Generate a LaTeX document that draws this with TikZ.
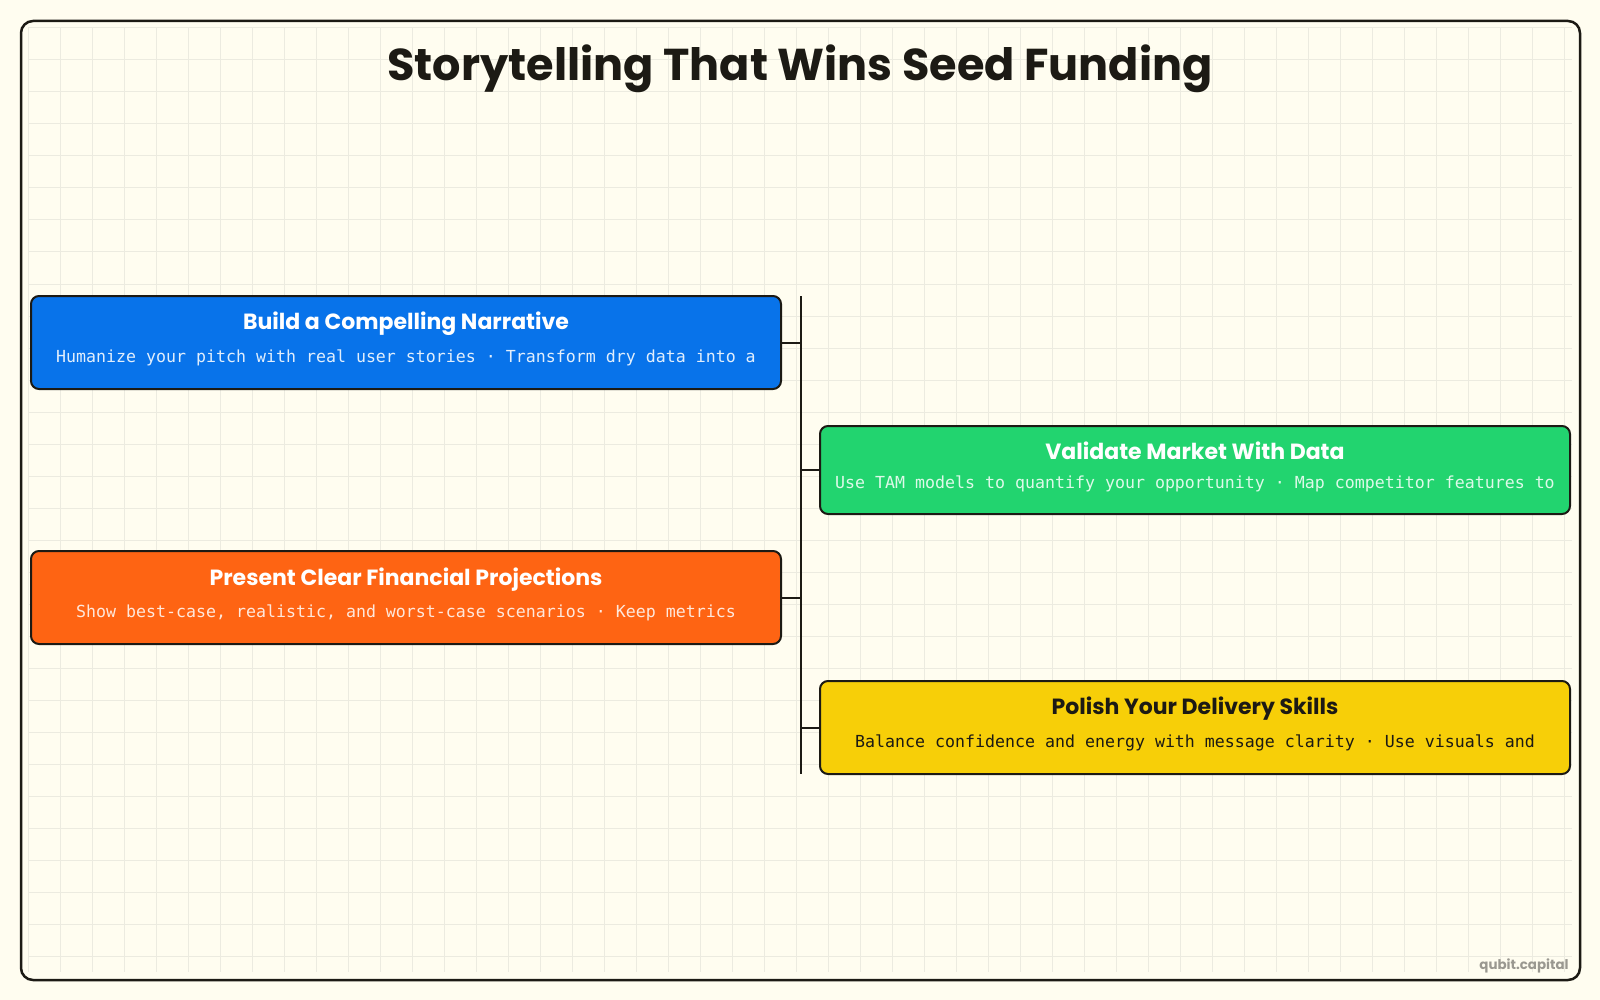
\documentclass[tikz,border=0pt]{standalone}
\usepackage{fontspec}
\usepackage{xcolor}
\usepackage{tikz}
\usetikzlibrary{positioning}
\setmainfont{Poppins}
\newfontfamily\monofont{DejaVu Sans Mono}

\definecolor{paper}{HTML}{FFFDF0}
\definecolor{gridline}{HTML}{ECEBE0}
\definecolor{ink}{HTML}{1C1A14}
\definecolor{cardblue}{HTML}{0873EA}
\definecolor{cardgreen}{HTML}{22D46F}
\definecolor{cardorange}{HTML}{FE6413}
\definecolor{cardyellow}{HTML}{F7CF08}
\definecolor{marktext}{HTML}{9A9890}

\begin{document}
\begin{tikzpicture}[
    x=0.5pt, y=-0.5pt,
    card/.style = {rectangle, rounded corners=4pt, draw=ink, line width=1pt, minimum width=375pt, minimum height=46.5pt},
    cardtitle/.style = {font=\fontsize{11}{13}\selectfont\bfseries},
    cardtext/.style = {font=\monofont\fontsize{8.3}{10}\selectfont},
    link/.style = {draw=ink, line width=1pt}
]

\useasboundingbox (0,0) rectangle (1600,1000);
\fill[paper] (0,0) rectangle (1600,1000);

% grid
\begin{scope}
\clip (28,28) rectangle (1572,972);
\foreach \gx in {28,60,...,1572} \draw[gridline, line width=0.5pt] (\gx,28) -- (\gx,972);
\foreach \gy in {28,60,...,972} \draw[gridline, line width=0.5pt] (28,\gy) -- (1572,\gy);
\end{scope}

\draw[ink, line width=1.25pt, rounded corners=6pt] (21,21) rectangle (1580,980);

\node [font=\fontsize{22.3}{27}\selectfont\bfseries, text=ink] (title) at (800,69) {Storytelling That Wins Seed Funding};

\node [card, fill=cardblue] (narr) at (406,342.5) {};
\node [card, fill=cardgreen, minimum height=44pt] (market) at (1195,470) {};
\node [card, fill=cardorange] (fin) at (406,597.5) {};
\node [card, fill=cardyellow] (pitch) at (1195,727.5) {};

\node [cardtitle, text=white] (narrt) at (406,324) {Build a Compelling Narrative};
\node [cardtext, text=white!88!cardblue] (narrs) at (406,358) {Humanize your pitch with real user stories · Transform dry data into a};

\node [cardtitle, text=white] (markett) at (1195,451) {Validate Market With Data};
\node [cardtext, text=white!85!cardgreen] (markets) at (1195,484) {Use TAM models to quantify your opportunity · Map competitor features to};

\node [cardtitle, text=white] (fint) at (406,580) {Present Clear Financial Projections};
\node [cardtext, text=white!85!cardorange] (fins) at (406,613) {Show best-case, realistic, and worst-case scenarios · Keep metrics};

\node [cardtitle, text=ink] (pitcht) at (1195,709) {Polish Your Delivery Skills};
\node [cardtext, text=ink] (pitchs) at (1195,743) {Balance confidence and energy with message clarity · Use visuals and};

\coordinate (trunktop) at (801,296);
\coordinate (trunkbot) at (801,774);
\draw[link] (trunktop) -- (trunkbot);

\draw[link] (narr.east) -- (narr.east -| trunktop);
\draw[link] (market.west) -- (market.west -| trunktop);
\draw[link] (fin.east) -- (fin.east -| trunktop);
\draw[link] (pitch.west) -- (pitch.west -| trunktop);

\node [anchor=east, inner sep=0pt, font=\fontsize{6.7}{8}\selectfont\bfseries, text=marktext] (mark) at (1569,966) {qubit.capital};

\end{tikzpicture}
\end{document}
